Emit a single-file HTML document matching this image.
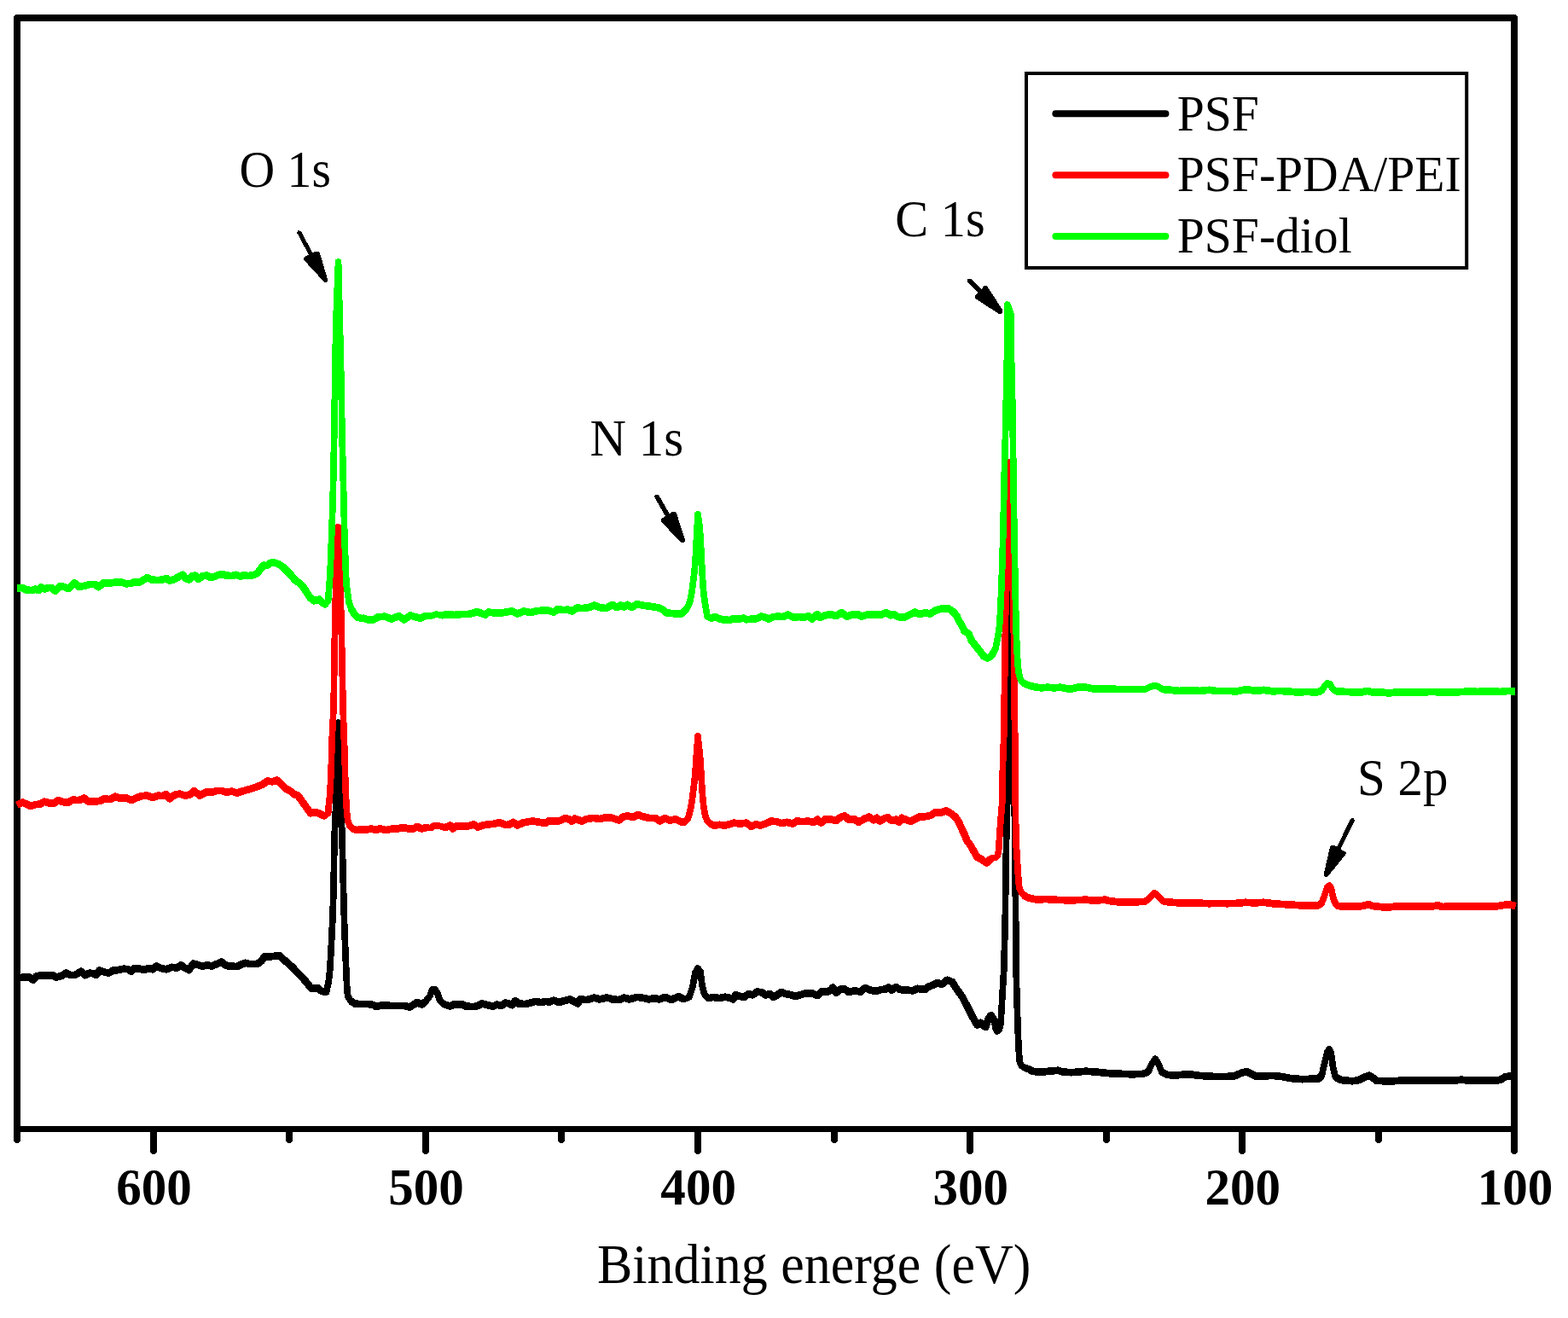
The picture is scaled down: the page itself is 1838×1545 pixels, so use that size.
<!DOCTYPE html>
<html lang="en"><head><meta charset="utf-8"><title>XPS survey spectra</title>
<style>html,body{margin:0;padding:0;background:#fff}svg{display:block}text{font-family:"Liberation Serif","Times New Roman",serif;fill:#000}</style></head><body>
<svg width="1838" height="1545" viewBox="0 0 1838 1545">
<rect width="1838" height="1545" fill="#fff"/>
<g fill="#000" shape-rendering="crispEdges">
<polygon points="16,19.5 18.5,17 1776.5,17 1779,19.5 1779,1323 1771,1323 1771,25 24,25 24,1323 16,1323"/>
<rect x="16" y="1320" width="1763" height="7"/>
<polygon points="16,1323 24,1323 24,1337.5 21.5,1340 18.5,1340 16,1337.5"/>
<polygon points="176,1323 184,1323 184,1350.5 181.5,1353 178.5,1353 176,1350.5"/>
<polygon points="335,1323 343,1323 343,1337.5 340.5,1340 337.5,1340 335,1337.5"/>
<polygon points="495,1323 503,1323 503,1350.5 500.5,1353 497.5,1353 495,1350.5"/>
<polygon points="654,1323 662,1323 662,1337.5 659.5,1340 656.5,1340 654,1337.5"/>
<polygon points="814,1323 822,1323 822,1350.5 819.5,1353 816.5,1353 814,1350.5"/>
<polygon points="974,1323 982,1323 982,1337.5 979.5,1340 976.5,1340 974,1337.5"/>
<polygon points="1133,1323 1141,1323 1141,1350.5 1138.5,1353 1135.5,1353 1133,1350.5"/>
<polygon points="1293,1323 1301,1323 1301,1337.5 1298.5,1340 1295.5,1340 1293,1337.5"/>
<polygon points="1452,1323 1460,1323 1460,1350.5 1457.5,1353 1454.5,1353 1452,1350.5"/>
<polygon points="1612,1323 1620,1323 1620,1337.5 1617.5,1340 1614.5,1340 1612,1337.5"/>
<polygon points="1771,1323 1779,1323 1779,1350.5 1776.5,1353 1773.5,1353 1771,1350.5"/>
</g>
<text transform="translate(180.45 1412.00) scale(0.968 1)" font-size="61" font-weight="bold" text-anchor="middle">600</text>
<text transform="translate(499.55 1412.00) scale(0.968 1)" font-size="61" font-weight="bold" text-anchor="middle">500</text>
<text transform="translate(818.65 1412.00) scale(0.968 1)" font-size="61" font-weight="bold" text-anchor="middle">400</text>
<text transform="translate(1137.75 1412.00) scale(0.968 1)" font-size="61" font-weight="bold" text-anchor="middle">300</text>
<text transform="translate(1456.85 1412.00) scale(0.968 1)" font-size="61" font-weight="bold" text-anchor="middle">200</text>
<text transform="translate(1775.95 1412.00) scale(0.968 1)" font-size="61" font-weight="bold" text-anchor="middle">100</text>
<text transform="translate(700.00 1504.10) scale(0.961 1)" font-size="64.5" font-weight="normal" text-anchor="start">Binding energe (eV)</text>
<g fill="none" stroke="#000" stroke-linejoin="round" stroke-linecap="butt" shape-rendering="crispEdges">
<polyline points="20.0,1146.3 27.5,1145.6 33.8,1145.1 38.8,1148.8 42.5,1144.6 48.8,1143.1 55.0,1143.8 61.3,1143.1 66.3,1145.6 72.6,1143.8 77.6,1140.6 82.6,1143.1 87.6,1143.1 95.1,1138.8 99.6,1143.1 105.1,1140.6 110.1,1141.3 112.6,1143.1 116.4,1137.6 122.6,1139.6 127.6,1140.6 132.6,1137.6 138.9,1137.1 145.2,1135.6 150.2,1136.3 153.9,1138.8 157.7,1135.1 163.9,1135.6 168.9,1137.1 173.9,1135.1 178.9,1136.3 183.2,1132.6 188.9,1135.1 195.2,1136.3 201.5,1133.8 207.7,1134.6 212.2,1131.3 216.5,1134.6 221.5,1137.1 226.5,1129.6 232.7,1131.3 237.8,1132.6 242.8,1131.3 247.8,1132.6 254.0,1130.1 259.8,1127.6 265.3,1132.1 271.5,1132.6 277.8,1133.1 282.8,1130.6 287.8,1128.8 292.8,1130.1 301.6,1130.1 306.6,1126.3 310.3,1121.3 317.8,1121.3 327.9,1120.1 332.9,1125.1 337.9,1129.6 342.9,1133.8 347.9,1139.6 354.1,1145.6 359.1,1151.3 365.1,1159.0 372.1,1158.0 377.1,1162.0 382.5,1163.0 385.2,1151.0 386.7,1137.0 387.9,1116.9 388.9,1096.8 389.9,1076.7 390.9,1046.6 391.4,1020.5 392.0,980.0 393.0,965.0 394.5,910.0 396.5,847.0 398.5,910.0 400.5,965.0 401.1,984.4 402.1,1024.5 403.1,1064.7 404.1,1095.8 405.1,1120.9 406.1,1145.0 407.0,1163.0 408.2,1169.0 411.3,1173.5 416.3,1176.7 424.3,1177.1 432.5,1177.1 437.5,1178.1 441.3,1180.1 447.6,1178.1 457.6,1178.9 467.6,1178.9 473.8,1178.9 480.1,1180.6 485.1,1177.6 488.9,1175.1 494.6,1177.6 498.9,1173.9 503.9,1167.6 506.4,1160.1 510.1,1159.6 513.1,1165.1 515.6,1172.6 520.1,1177.1 527.6,1179.6 532.6,1177.1 537.6,1177.6 541.4,1177.1 546.4,1179.6 555.2,1180.1 560.2,1178.9 565.2,1176.4 571.4,1178.1 577.7,1179.6 582.7,1177.6 587.7,1178.9 592.7,1175.6 596.5,1176.4 600.2,1178.1 604.0,1173.1 607.7,1176.4 615.2,1177.1 621.5,1175.6 627.8,1173.9 634.0,1175.1 640.3,1173.9 644.0,1174.6 649.0,1172.6 655.3,1175.1 661.5,1173.1 667.8,1171.4 672.8,1173.9 677.3,1176.4 680.3,1171.4 687.8,1172.1 696.6,1169.6 702.8,1171.4 710.3,1169.6 714.1,1170.1 717.9,1171.4 725.4,1172.1 731.6,1169.6 737.9,1171.4 746.6,1168.9 752.9,1169.6 760.4,1171.4 766.6,1170.1 772.9,1171.4 779.9,1168.9 786.7,1172.1 795.4,1168.1 801.7,1171.4 807.9,1168.9 811.7,1157.6 815.0,1140.1 818.0,1135.1 821.0,1138.8 823.0,1155.1 825.5,1165.1 830.5,1170.6 835.5,1168.9 843.0,1170.1 850.0,1168.8 855.0,1169.6 859.5,1171.3 862.5,1166.3 867.5,1168.1 872.5,1168.8 877.5,1165.1 882.5,1166.3 887.5,1162.6 892.5,1163.1 897.5,1166.3 902.6,1165.1 906.3,1168.8 911.3,1166.3 915.6,1163.1 921.3,1165.1 927.6,1166.3 932.6,1168.1 937.6,1166.3 943.9,1164.6 952.6,1164.6 958.1,1167.1 962.6,1162.6 970.1,1162.6 973.9,1160.6 976.4,1157.6 980.1,1163.8 985.1,1159.6 990.1,1159.6 995.2,1163.1 1001.4,1161.3 1008.9,1162.6 1013.9,1158.1 1020.2,1160.6 1026.4,1162.1 1032.7,1160.1 1037.7,1159.6 1041.5,1157.6 1045.2,1160.6 1050.2,1157.1 1055.2,1160.1 1062.7,1160.6 1070.2,1161.3 1075.2,1158.8 1084.0,1160.1 1089.0,1156.3 1094.0,1154.6 1099.0,1152.1 1104.0,1153.8 1110.3,1148.8 1116.5,1151.3 1120.0,1157.4 1127.8,1168.3 1135.5,1182.8 1141.2,1194.2 1145.4,1201.4 1149.5,1198.9 1155.2,1204.0 1158.8,1194.2 1161.9,1189.8 1165.0,1194.2 1167.1,1205.6 1168.7,1208.9 1171.3,1207.1 1172.8,1201.4 1173.5,1192.1 1174.3,1178.7 1175.1,1164.2 1175.9,1150.7 1176.7,1138.3 1177.5,1109.0 1178.4,1070.0 1179.2,1008.0 1180.4,946.0 1182.0,850.0 1183.5,700.0 1184.5,600.0 1185.5,700.0 1187.0,850.0 1188.4,946.0 1189.6,959.0 1189.8,1008.0 1190.6,1070.0 1191.0,1130.0 1191.5,1152.0 1192.0,1170.0 1193.0,1203.0 1194.0,1227.0 1195.1,1243.9 1197.1,1249.1 1200.8,1251.7 1207.0,1253.7 1210.1,1255.8 1216.3,1256.5 1222.5,1256.5 1228.7,1255.8 1233.9,1255.3 1240.0,1254.8 1245.4,1256.4 1255.4,1257.2 1265.5,1256.4 1273.0,1255.7 1283.0,1256.4 1290.5,1257.2 1300.5,1258.2 1313.3,1258.8 1326.7,1259.3 1340.0,1258.8 1345.8,1256.7 1350.1,1247.3 1354.1,1241.2 1358.1,1247.3 1361.8,1256.7 1368.0,1259.8 1376.0,1260.7 1385.3,1259.8 1394.6,1259.3 1404.0,1260.7 1414.6,1261.5 1425.3,1262.0 1436.0,1262.0 1446.6,1261.5 1454.6,1258.0 1461.3,1256.1 1466.6,1258.8 1472.0,1261.5 1481.3,1261.5 1492.0,1260.9 1502.6,1262.0 1513.3,1264.1 1526.6,1265.2 1537.3,1264.7 1545.3,1264.7 1549.3,1260.7 1552.7,1246.0 1555.9,1232.7 1558.1,1230.0 1560.2,1234.0 1562.6,1251.3 1565.3,1262.5 1571.9,1266.0 1585.3,1267.3 1593.2,1266.0 1599.9,1262.5 1605.2,1260.7 1609.2,1263.3 1613.2,1266.8 1622.6,1267.3 1633.2,1267.3 1643.9,1266.5 1657.2,1266.8 1667.9,1266.8 1678.6,1266.2 1689.2,1266.8 1702.6,1266.8 1713.2,1265.7 1723.9,1266.8 1737.2,1266.8 1750.5,1266.8 1758.5,1266.0 1763.9,1262.5 1769.2,1261.5 1774.5,1262.0" stroke-width="7.7"/>
<polyline points="20.0,1146.3 27.5,1145.6 33.8,1145.1 38.8,1148.8 42.5,1144.6 48.8,1143.1 55.0,1143.8 61.3,1143.1 66.3,1145.6 72.6,1143.8 77.6,1140.6 82.6,1143.1 87.6,1143.1 95.1,1138.8 99.6,1143.1 105.1,1140.6 110.1,1141.3 112.6,1143.1 116.4,1137.6 122.6,1139.6 127.6,1140.6 132.6,1137.6 138.9,1137.1 145.2,1135.6 150.2,1136.3 153.9,1138.8 157.7,1135.1 163.9,1135.6 168.9,1137.1 173.9,1135.1 178.9,1136.3 183.2,1132.6 188.9,1135.1 195.2,1136.3 201.5,1133.8 207.7,1134.6 212.2,1131.3 216.5,1134.6 221.5,1137.1 226.5,1129.6 232.7,1131.3 237.8,1132.6 242.8,1131.3 247.8,1132.6 254.0,1130.1 259.8,1127.6 265.3,1132.1 271.5,1132.6 277.8,1133.1 282.8,1130.6 287.8,1128.8 292.8,1130.1 301.6,1130.1 306.6,1126.3 310.3,1121.3 317.8,1121.3 327.9,1120.1 332.9,1125.1 337.9,1129.6 342.9,1133.8 347.9,1139.6 354.1,1145.6 359.1,1151.3 365.1,1159.0 372.1,1158.0 377.1,1162.0 382.5,1163.0" stroke-width="8.7"/>
<polyline points="411.3,1173.5 416.3,1176.7 424.3,1177.1 432.5,1177.1 437.5,1178.1 441.3,1180.1 447.6,1178.1 457.6,1178.9 467.6,1178.9 473.8,1178.9 480.1,1180.6 485.1,1177.6 488.9,1175.1 494.6,1177.6 498.9,1173.9" stroke-width="8.7"/>
<polyline points="520.1,1177.1 527.6,1179.6 532.6,1177.1 537.6,1177.6 541.4,1177.1 546.4,1179.6 555.2,1180.1 560.2,1178.9 565.2,1176.4 571.4,1178.1 577.7,1179.6 582.7,1177.6 587.7,1178.9 592.7,1175.6 596.5,1176.4 600.2,1178.1 604.0,1173.1 607.7,1176.4 615.2,1177.1 621.5,1175.6 627.8,1173.9 634.0,1175.1 640.3,1173.9 644.0,1174.6 649.0,1172.6 655.3,1175.1 661.5,1173.1 667.8,1171.4 672.8,1173.9 677.3,1176.4 680.3,1171.4 687.8,1172.1 696.6,1169.6 702.8,1171.4 710.3,1169.6 714.1,1170.1 717.9,1171.4 725.4,1172.1 731.6,1169.6 737.9,1171.4 746.6,1168.9 752.9,1169.6 760.4,1171.4 766.6,1170.1 772.9,1171.4 779.9,1168.9 786.7,1172.1 795.4,1168.1 801.7,1171.4" stroke-width="8.7"/>
<polyline points="830.5,1170.6 835.5,1168.9 843.0,1170.1 850.0,1168.8 855.0,1169.6 859.5,1171.3 862.5,1166.3 867.5,1168.1 872.5,1168.8 877.5,1165.1 882.5,1166.3 887.5,1162.6 892.5,1163.1 897.5,1166.3 902.6,1165.1 906.3,1168.8 911.3,1166.3 915.6,1163.1 921.3,1165.1 927.6,1166.3 932.6,1168.1 937.6,1166.3 943.9,1164.6 952.6,1164.6 958.1,1167.1 962.6,1162.6 970.1,1162.6 973.9,1160.6 976.4,1157.6 980.1,1163.8 985.1,1159.6 990.1,1159.6 995.2,1163.1 1001.4,1161.3 1008.9,1162.6 1013.9,1158.1 1020.2,1160.6 1026.4,1162.1 1032.7,1160.1 1037.7,1159.6 1041.5,1157.6 1045.2,1160.6 1050.2,1157.1 1055.2,1160.1 1062.7,1160.6 1070.2,1161.3 1075.2,1158.8 1084.0,1160.1 1089.0,1156.3 1094.0,1154.6 1099.0,1152.1 1104.0,1153.8 1110.3,1148.8 1116.5,1151.3 1120.0,1157.4 1127.8,1168.3 1135.5,1182.8 1141.2,1194.2 1145.4,1201.4 1149.5,1198.9 1155.2,1204.0 1158.8,1194.2 1161.9,1189.8" stroke-width="8.7"/>
<polyline points="1200.8,1251.7 1207.0,1253.7 1210.1,1255.8 1216.3,1256.5 1222.5,1256.5 1228.7,1255.8 1233.9,1255.3 1240.0,1254.8 1245.4,1256.4 1255.4,1257.2 1265.5,1256.4 1273.0,1255.7 1283.0,1256.4 1290.5,1257.2 1300.5,1258.2 1313.3,1258.8 1326.7,1259.3 1340.0,1258.8 1345.8,1256.7" stroke-width="8.7"/>
<polyline points="1361.8,1256.7 1368.0,1259.8 1376.0,1260.7 1385.3,1259.8 1394.6,1259.3 1404.0,1260.7 1414.6,1261.5 1425.3,1262.0 1436.0,1262.0 1446.6,1261.5 1454.6,1258.0 1461.3,1256.1 1466.6,1258.8 1472.0,1261.5 1481.3,1261.5 1492.0,1260.9 1502.6,1262.0 1513.3,1264.1 1526.6,1265.2 1537.3,1264.7 1545.3,1264.7 1549.3,1260.7" stroke-width="8.7"/>
<polyline points="1565.3,1262.5 1571.9,1266.0 1585.3,1267.3 1593.2,1266.0 1599.9,1262.5 1605.2,1260.7 1609.2,1263.3 1613.2,1266.8 1622.6,1267.3 1633.2,1267.3 1643.9,1266.5 1657.2,1266.8 1667.9,1266.8 1678.6,1266.2 1689.2,1266.8 1702.6,1266.8 1713.2,1265.7 1723.9,1266.8 1737.2,1266.8 1750.5,1266.8 1758.5,1266.0 1763.9,1262.5 1769.2,1261.5 1774.5,1262.0" stroke-width="8.7"/>
</g>
<g fill="none" stroke="#f00" stroke-linejoin="round" stroke-linecap="butt" shape-rendering="crispEdges">
<polyline points="20.0,943.8 26.3,940.6 31.3,942.6 36.3,945.1 41.3,943.1 47.5,942.6 52.0,939.6 57.5,941.3 63.8,941.3 68.1,938.1 73.8,940.1 80.1,940.6 85.1,937.6 92.6,938.1 98.8,935.6 103.8,939.6 111.4,939.6 117.6,938.8 122.6,936.3 128.9,937.1 135.1,933.8 140.1,935.6 147.7,935.1 153.9,938.1 160.2,935.1 166.4,933.1 172.7,932.6 178.9,935.1 185.2,932.6 190.2,933.1 194.7,931.3 199.0,936.3 204.0,932.1 210.2,930.6 217.7,932.6 222.7,931.3 227.7,927.1 234.0,932.6 242.8,928.1 247.8,928.8 254.0,927.1 260.3,927.1 265.3,928.8 271.5,927.6 277.8,929.6 285.3,927.1 292.8,925.1 300.3,922.6 307.8,919.6 313.3,915.6 319.1,916.3 324.8,914.6 330.4,920.1 335.4,924.6 341.6,928.1 345.4,931.3 349.0,932.2 356.1,942.2 364.1,953.3 370.1,952.3 375.1,953.9 380.1,956.7 384.6,953.3 385.4,944.0 386.4,935.0 387.4,920.0 388.4,895.0 388.9,873.0 390.1,848.0 391.1,828.0 392.8,720.0 394.0,680.0 395.2,650.0 396.3,617.8 397.4,650.0 398.5,680.0 400.0,726.0 402.1,830.0 403.1,860.0 404.1,885.0 404.8,917.0 405.8,940.0 406.8,955.0 407.9,963.0 410.0,968.0 413.0,971.5 418.0,973.0 422.5,972.6 430.0,972.6 435.0,971.4 440.0,973.1 445.1,971.4 452.6,973.1 460.1,971.4 466.3,971.4 472.6,970.1 478.8,971.4 485.1,971.4 488.9,968.9 493.9,971.4 500.1,970.1 505.1,970.6 508.9,967.6 515.1,968.1 521.4,970.1 527.6,967.6 530.6,971.4 535.1,968.1 542.7,968.9 550.2,968.1 555.2,966.4 560.2,969.6 565.2,967.6 572.7,966.4 580.2,965.6 585.2,963.9 592.7,967.1 597.7,966.4 601.5,963.9 606.5,967.6 612.7,964.6 620.2,963.1 625.2,962.6 632.8,963.9 639.0,965.1 642.8,962.6 650.3,962.6 656.5,962.1 662.8,958.9 666.5,960.1 670.3,962.6 674.0,959.6 681.6,962.6 687.8,960.1 695.3,958.9 702.8,960.1 710.3,958.1 717.9,958.9 725.4,961.4 730.4,957.6 735.4,956.4 741.6,958.1 747.9,955.1 752.9,957.1 760.4,958.9 767.9,958.9 773.4,962.5 779.2,959.1 784.6,961.5 792.3,960.5 797.2,963.0 801.1,963.9 804.5,962.0 806.4,959.6 807.9,954.7 809.0,950.6 810.0,945.7 811.0,939.9 812.0,932.4 813.1,923.6 814.1,914.7 815.1,904.0 816.0,890.9 817.0,876.3 818.0,864.6 818.1,862.7 819.0,872.9 820.0,880.9 821.0,892.3 822.0,908.3 823.0,925.8 824.1,938.9 824.9,946.0 825.9,951.8 827.0,957.4 829.2,962.5 832.1,965.4 837.0,967.5 843.8,966.8 850.0,967.6 855.0,966.3 860.0,964.6 867.5,965.6 875.0,964.6 880.5,968.8 886.3,966.3 891.3,967.6 897.5,965.6 903.8,962.6 910.1,963.1 916.3,965.1 922.6,963.8 929.6,965.6 933.8,962.6 941.4,963.1 947.6,962.6 953.9,963.8 958.1,960.6 962.6,964.6 967.6,960.1 973.9,960.6 980.1,962.1 985.1,958.1 990.1,956.3 994.7,960.6 1001.4,960.1 1006.4,963.8 1012.7,960.1 1018.9,957.6 1023.9,961.3 1027.7,958.8 1031.5,962.6 1036.5,959.6 1040.7,958.1 1045.2,962.1 1050.2,960.6 1054.0,963.8 1057.2,958.8 1062.7,961.3 1067.7,962.6 1072.7,960.1 1077.8,957.6 1085.3,957.1 1091.5,955.6 1096.5,952.1 1102.8,952.6 1109.0,950.5 1115.3,953.8 1120.3,958.1 1124.0,963.8 1127.3,971.3 1130.3,977.6 1133.3,985.1 1137.8,991.4 1141.6,998.1 1145.3,1004.6 1150.3,1007.1 1156.4,1011.6 1160.0,1008.0 1163.0,1005.5 1167.0,1005.5 1169.5,1003.0 1170.7,996.0 1171.7,980.0 1172.9,963.0 1174.8,940.0 1175.4,900.0 1177.0,854.0 1177.3,819.0 1178.0,770.0 1178.8,711.0 1180.5,640.0 1183.0,542.0 1185.5,640.0 1188.0,711.0 1188.7,770.0 1188.8,819.0 1189.6,854.0 1190.2,900.0 1190.3,940.0 1191.0,990.0 1192.0,1000.0 1193.0,1020.0 1194.1,1034.0 1194.8,1041.1 1197.1,1045.8 1200.2,1049.6 1205.4,1052.4 1213.9,1054.3 1217.9,1054.7 1225.4,1053.9 1235.4,1054.7 1247.9,1055.2 1260.5,1055.2 1273.0,1054.7 1283.0,1055.7 1295.5,1054.7 1300.0,1056.0 1310.7,1057.3 1321.3,1057.8 1332.0,1057.3 1342.7,1056.8 1348.0,1052.0 1353.3,1046.7 1358.7,1051.5 1364.0,1056.8 1374.7,1057.8 1385.3,1058.7 1396.0,1058.7 1406.6,1058.7 1417.3,1059.2 1428.0,1058.9 1438.6,1059.2 1449.3,1058.9 1460.0,1057.8 1470.6,1058.4 1481.3,1057.8 1492.0,1059.2 1502.6,1060.0 1513.3,1060.5 1523.9,1061.3 1534.6,1061.6 1545.3,1061.3 1549.3,1058.7 1552.7,1049.3 1555.9,1040.0 1558.1,1038.1 1560.2,1040.8 1563.4,1054.7 1566.6,1061.3 1571.9,1062.6 1582.6,1062.6 1593.2,1062.6 1599.9,1061.3 1603.9,1060.0 1609.2,1062.1 1619.9,1063.2 1627.9,1063.4 1635.9,1062.6 1651.9,1062.6 1667.9,1062.6 1678.6,1062.6 1685.2,1061.3 1690.6,1062.9 1705.2,1062.6 1721.2,1062.6 1737.2,1062.6 1753.2,1062.6 1761.2,1061.3 1767.9,1060.0 1773.2,1061.3 1776.7,1062.1" stroke-width="7.7"/>
<polyline points="20.0,943.8 26.3,940.6 31.3,942.6 36.3,945.1 41.3,943.1 47.5,942.6 52.0,939.6 57.5,941.3 63.8,941.3 68.1,938.1 73.8,940.1 80.1,940.6 85.1,937.6 92.6,938.1 98.8,935.6 103.8,939.6 111.4,939.6 117.6,938.8 122.6,936.3 128.9,937.1 135.1,933.8 140.1,935.6 147.7,935.1 153.9,938.1 160.2,935.1 166.4,933.1 172.7,932.6 178.9,935.1 185.2,932.6 190.2,933.1 194.7,931.3 199.0,936.3 204.0,932.1 210.2,930.6 217.7,932.6 222.7,931.3 227.7,927.1 234.0,932.6 242.8,928.1 247.8,928.8 254.0,927.1 260.3,927.1 265.3,928.8 271.5,927.6 277.8,929.6 285.3,927.1 292.8,925.1 300.3,922.6 307.8,919.6 313.3,915.6 319.1,916.3 324.8,914.6 330.4,920.1 335.4,924.6 341.6,928.1 345.4,931.3 349.0,932.2 356.1,942.2 364.1,953.3 370.1,952.3 375.1,953.9 380.1,956.7" stroke-width="8.7"/>
<polyline points="413.0,971.5 418.0,973.0 422.5,972.6 430.0,972.6 435.0,971.4 440.0,973.1 445.1,971.4 452.6,973.1 460.1,971.4 466.3,971.4 472.6,970.1 478.8,971.4 485.1,971.4 488.9,968.9 493.9,971.4 500.1,970.1" stroke-width="8.7"/>
<polyline points="521.4,970.1 527.6,967.6 530.6,971.4 535.1,968.1 542.7,968.9 550.2,968.1 555.2,966.4 560.2,969.6 565.2,967.6 572.7,966.4 580.2,965.6 585.2,963.9 592.7,967.1 597.7,966.4 601.5,963.9 606.5,967.6 612.7,964.6 620.2,963.1 625.2,962.6 632.8,963.9 639.0,965.1 642.8,962.6 650.3,962.6 656.5,962.1 662.8,958.9 666.5,960.1 670.3,962.6 674.0,959.6 681.6,962.6 687.8,960.1 695.3,958.9 702.8,960.1 710.3,958.1 717.9,958.9 725.4,961.4 730.4,957.6 735.4,956.4 741.6,958.1 747.9,955.1 752.9,957.1 760.4,958.9 767.9,958.9 773.4,962.5 779.2,959.1 784.6,961.5 792.3,960.5 797.2,963.0 801.1,963.9 804.5,962.0" stroke-width="8.7"/>
<polyline points="832.1,965.4 837.0,967.5 843.8,966.8 850.0,967.6 855.0,966.3 860.0,964.6 867.5,965.6 875.0,964.6 880.5,968.8 886.3,966.3 891.3,967.6 897.5,965.6 903.8,962.6 910.1,963.1 916.3,965.1 922.6,963.8 929.6,965.6 933.8,962.6 941.4,963.1 947.6,962.6 953.9,963.8 958.1,960.6 962.6,964.6 967.6,960.1 973.9,960.6 980.1,962.1 985.1,958.1 990.1,956.3 994.7,960.6 1001.4,960.1 1006.4,963.8 1012.7,960.1 1018.9,957.6 1023.9,961.3 1027.7,958.8 1031.5,962.6 1036.5,959.6 1040.7,958.1 1045.2,962.1 1050.2,960.6 1054.0,963.8 1057.2,958.8 1062.7,961.3 1067.7,962.6 1072.7,960.1 1077.8,957.6 1085.3,957.1 1091.5,955.6 1096.5,952.1 1102.8,952.6 1109.0,950.5 1115.3,953.8 1120.3,958.1 1124.0,963.8 1127.3,971.3 1130.3,977.6 1133.3,985.1 1137.8,991.4 1141.6,998.1 1145.3,1004.6 1150.3,1007.1 1156.4,1011.6 1160.0,1008.0 1163.0,1005.5" stroke-width="8.7"/>
<polyline points="1200.2,1049.6 1205.4,1052.4 1213.9,1054.3 1217.9,1054.7 1225.4,1053.9 1235.4,1054.7 1247.9,1055.2 1260.5,1055.2 1273.0,1054.7 1283.0,1055.7 1295.5,1054.7 1300.0,1056.0 1310.7,1057.3 1321.3,1057.8 1332.0,1057.3 1342.7,1056.8" stroke-width="8.7"/>
<polyline points="1364.0,1056.8 1374.7,1057.8 1385.3,1058.7 1396.0,1058.7 1406.6,1058.7 1417.3,1059.2 1428.0,1058.9 1438.6,1059.2 1449.3,1058.9 1460.0,1057.8 1470.6,1058.4 1481.3,1057.8 1492.0,1059.2 1502.6,1060.0 1513.3,1060.5 1523.9,1061.3 1534.6,1061.6 1545.3,1061.3 1549.3,1058.7" stroke-width="8.7"/>
<polyline points="1566.6,1061.3 1571.9,1062.6 1582.6,1062.6 1593.2,1062.6 1599.9,1061.3 1603.9,1060.0 1609.2,1062.1 1619.9,1063.2 1627.9,1063.4 1635.9,1062.6 1651.9,1062.6 1667.9,1062.6 1678.6,1062.6 1685.2,1061.3 1690.6,1062.9 1705.2,1062.6 1721.2,1062.6 1737.2,1062.6 1753.2,1062.6 1761.2,1061.3 1767.9,1060.0 1773.2,1061.3 1776.7,1062.1" stroke-width="8.7"/>
</g>
<g fill="none" stroke="#0f0" stroke-linejoin="round" stroke-linecap="butt" shape-rendering="crispEdges">
<polyline points="20.0,689.6 26.3,688.9 30.0,691.4 37.5,692.1 41.3,690.6 45.0,692.1 48.0,688.1 52.5,690.6 56.3,688.9 60.0,688.9 64.6,692.6 70.1,687.1 75.6,688.1 80.6,690.1 87.1,683.1 92.1,687.6 97.6,687.1 105.1,685.1 111.4,685.1 115.6,688.1 121.4,683.1 127.6,683.8 135.1,682.6 142.6,682.6 147.7,684.3 153.9,683.8 157.7,682.1 162.7,683.1 167.7,680.1 172.7,677.1 177.7,679.6 185.2,680.1 190.2,679.6 195.2,678.1 199.0,680.6 205.2,678.8 210.2,675.6 214.0,673.8 217.2,677.6 221.5,679.6 225.7,675.1 229.0,674.6 232.7,678.8 237.8,675.1 242.8,674.6 246.5,677.1 251.5,675.8 256.5,673.8 261.5,673.1 265.3,674.6 271.5,675.1 276.5,673.8 281.6,675.6 285.3,674.1 291.6,675.1 297.8,673.8 301.6,672.1 305.3,667.1 309.1,662.6 312.8,663.1 316.6,660.1 320.3,659.1 326.6,661.3 331.6,664.6 336.6,669.6 341.6,674.6 345.4,679.6 350.4,683.1 355.4,688.1 359.2,693.9 363.6,700.8 368.0,704.3 374.1,702.6 377.6,706.1 381.1,708.7 384.6,704.3 385.4,694.0 385.9,687.0 387.0,672.0 388.0,648.0 388.9,621.0 389.9,595.0 391.0,550.0 392.0,495.0 392.9,428.0 393.8,380.0 394.8,352.0 395.9,323.0 396.6,307.0 397.2,332.0 398.2,374.0 399.2,415.0 400.2,458.0 400.9,506.0 402.0,548.0 403.0,590.0 403.9,630.0 405.0,660.0 406.0,685.0 408.0,698.0 409.0,706.0 412.0,714.0 415.5,720.0 419.0,723.5 424.0,725.0 426.3,724.7 431.3,726.4 437.5,726.4 443.8,723.2 451.3,722.7 458.8,725.7 467.6,722.1 473.8,726.4 481.3,721.4 486.3,723.2 492.6,724.7 500.1,721.4 505.1,722.1 511.4,720.1 517.6,721.4 525.1,720.1 532.6,720.9 540.1,720.1 547.7,720.1 553.9,718.9 558.9,717.1 563.9,718.9 568.9,720.6 572.7,717.6 578.9,718.4 585.2,718.9 592.7,717.6 600.2,716.4 606.5,719.6 614.0,716.4 621.5,718.1 627.8,716.4 635.3,715.6 642.8,715.6 649.0,717.6 654.0,713.9 660.3,715.1 665.3,714.6 670.3,716.4 676.5,712.6 682.8,713.1 690.3,712.1 696.6,709.6 702.8,712.1 710.3,713.1 717.9,708.9 722.9,712.1 727.9,709.6 731.6,711.4 735.4,708.9 740.4,712.1 746.6,708.1 752.9,709.6 760.4,710.6 766.6,711.4 772.9,712.6 777.9,715.1 780.7,718.2 787.5,719.1 794.3,719.3 798.2,719.6 801.6,717.2 804.5,714.3 806.4,710.4 807.9,707.5 809.0,704.0 810.0,699.4 811.0,693.9 812.0,686.6 813.0,678.3 814.1,669.6 815.1,657.5 816.0,640.5 817.0,620.8 818.0,605.8 818.1,602.7 819.0,610.0 820.0,616.7 821.0,628.8 822.0,648.2 823.0,669.8 824.1,686.4 824.9,695.8 825.9,703.3 827.0,710.9 828.0,716.4 829.2,723.0 833.1,725.0 838.0,723.2 843.8,725.4 848.6,726.9 850.0,726.3 855.0,727.1 860.0,725.1 866.3,725.6 871.3,724.6 875.0,726.3 881.3,725.6 887.5,725.1 892.5,722.6 897.5,723.8 901.3,725.6 906.3,723.1 912.6,722.6 917.6,723.1 923.8,720.6 930.1,723.8 936.3,723.1 942.6,723.8 947.6,722.1 952.1,725.6 958.1,720.1 961.4,723.8 967.6,721.3 973.9,720.1 980.1,722.1 986.4,718.1 992.7,722.6 998.9,720.6 1005.2,720.1 1010.2,722.6 1016.4,720.6 1025.2,720.6 1032.7,720.6 1039.0,718.1 1044.0,721.3 1047.7,720.1 1052.7,723.1 1060.2,723.8 1066.5,720.6 1072.7,717.6 1077.8,720.1 1085.3,718.1 1090.3,719.6 1096.5,715.6 1102.8,713.8 1111.5,713.1 1117.8,717.6 1121.5,722.1 1124.0,727.6 1127.8,733.8 1130.3,739.6 1135.3,742.6 1139.1,751.4 1144.1,757.6 1149.1,763.9 1152.8,768.9 1157.2,771.5 1160.5,770.0 1164.0,766.0 1167.0,760.0 1169.0,750.0 1170.8,740.0 1171.8,731.0 1172.8,713.0 1173.8,689.0 1174.8,663.0 1175.8,626.0 1176.8,580.0 1177.8,533.0 1178.8,500.0 1179.9,440.0 1180.9,401.0 1180.9,357.0 1185.2,369.0 1185.2,413.0 1186.2,440.0 1187.2,500.0 1188.2,580.0 1189.2,640.0 1190.2,696.0 1191.2,740.0 1192.2,764.0 1193.0,778.0 1194.1,789.0 1196.5,797.0 1200.0,801.0 1205.4,803.2 1212.9,805.2 1220.4,806.4 1227.9,805.7 1235.4,806.4 1242.9,805.7 1250.4,807.2 1255.4,807.7 1263.0,805.7 1273.0,805.7 1280.5,807.2 1288.0,807.7 1295.5,807.2 1310.7,808.0 1326.7,808.0 1342.7,808.0 1348.0,805.3 1353.3,803.5 1357.3,804.5 1362.7,808.0 1372.0,808.8 1382.6,809.9 1390.6,809.3 1398.6,809.3 1406.6,809.9 1417.3,808.8 1425.3,809.9 1438.6,809.9 1449.3,810.4 1457.3,808.8 1465.3,808.8 1472.0,809.9 1481.3,808.8 1492.0,810.4 1500.0,809.9 1510.6,810.6 1521.3,811.5 1531.9,810.9 1542.6,811.5 1549.3,809.9 1552.7,804.0 1555.9,800.8 1559.1,801.9 1562.6,808.0 1566.6,810.6 1577.3,810.9 1587.9,811.5 1595.9,811.5 1602.6,809.9 1609.2,811.5 1619.9,811.5 1627.9,812.5 1635.9,811.5 1651.9,811.5 1667.9,811.5 1678.6,810.9 1689.2,811.5 1705.2,811.5 1715.9,810.9 1723.9,810.4 1731.9,810.9 1745.2,810.4 1758.5,810.9 1767.9,809.9 1775.9,810.6" stroke-width="7.7"/>
<polyline points="20.0,689.6 26.3,688.9 30.0,691.4 37.5,692.1 41.3,690.6 45.0,692.1 48.0,688.1 52.5,690.6 56.3,688.9 60.0,688.9 64.6,692.6 70.1,687.1 75.6,688.1 80.6,690.1 87.1,683.1 92.1,687.6 97.6,687.1 105.1,685.1 111.4,685.1 115.6,688.1 121.4,683.1 127.6,683.8 135.1,682.6 142.6,682.6 147.7,684.3 153.9,683.8 157.7,682.1 162.7,683.1 167.7,680.1 172.7,677.1 177.7,679.6 185.2,680.1 190.2,679.6 195.2,678.1 199.0,680.6 205.2,678.8 210.2,675.6 214.0,673.8 217.2,677.6 221.5,679.6 225.7,675.1 229.0,674.6 232.7,678.8 237.8,675.1 242.8,674.6 246.5,677.1 251.5,675.8 256.5,673.8 261.5,673.1 265.3,674.6 271.5,675.1 276.5,673.8 281.6,675.6 285.3,674.1 291.6,675.1 297.8,673.8 301.6,672.1 305.3,667.1 309.1,662.6 312.8,663.1 316.6,660.1 320.3,659.1 326.6,661.3 331.6,664.6 336.6,669.6 341.6,674.6 345.4,679.6 350.4,683.1 355.4,688.1 359.2,693.9 363.6,700.8 368.0,704.3 374.1,702.6 377.6,706.1 381.1,708.7" stroke-width="8.7"/>
<polyline points="412.0,714.0 415.5,720.0 419.0,723.5 424.0,725.0 426.3,724.7 431.3,726.4 437.5,726.4 443.8,723.2 451.3,722.7 458.8,725.7 467.6,722.1 473.8,726.4 481.3,721.4 486.3,723.2 492.6,724.7 500.1,721.4" stroke-width="8.7"/>
<polyline points="517.6,721.4 525.1,720.1 532.6,720.9 540.1,720.1 547.7,720.1 553.9,718.9 558.9,717.1 563.9,718.9 568.9,720.6 572.7,717.6 578.9,718.4 585.2,718.9 592.7,717.6 600.2,716.4 606.5,719.6 614.0,716.4 621.5,718.1 627.8,716.4 635.3,715.6 642.8,715.6 649.0,717.6 654.0,713.9 660.3,715.1 665.3,714.6 670.3,716.4 676.5,712.6 682.8,713.1 690.3,712.1 696.6,709.6 702.8,712.1 710.3,713.1 717.9,708.9 722.9,712.1 727.9,709.6 731.6,711.4 735.4,708.9 740.4,712.1 746.6,708.1 752.9,709.6 760.4,710.6 766.6,711.4 772.9,712.6 777.9,715.1 780.7,718.2 787.5,719.1 794.3,719.3 798.2,719.6 801.6,717.2 804.5,714.3" stroke-width="8.7"/>
<polyline points="833.1,725.0 838.0,723.2 843.8,725.4 848.6,726.9 850.0,726.3 855.0,727.1 860.0,725.1 866.3,725.6 871.3,724.6 875.0,726.3 881.3,725.6 887.5,725.1 892.5,722.6 897.5,723.8 901.3,725.6 906.3,723.1 912.6,722.6 917.6,723.1 923.8,720.6 930.1,723.8 936.3,723.1 942.6,723.8 947.6,722.1 952.1,725.6 958.1,720.1 961.4,723.8 967.6,721.3 973.9,720.1 980.1,722.1 986.4,718.1 992.7,722.6 998.9,720.6 1005.2,720.1 1010.2,722.6 1016.4,720.6 1025.2,720.6 1032.7,720.6 1039.0,718.1 1044.0,721.3 1047.7,720.1 1052.7,723.1 1060.2,723.8 1066.5,720.6 1072.7,717.6 1077.8,720.1 1085.3,718.1 1090.3,719.6 1096.5,715.6 1102.8,713.8 1111.5,713.1 1117.8,717.6 1121.5,722.1 1124.0,727.6 1127.8,733.8 1130.3,739.6 1135.3,742.6 1139.1,751.4 1144.1,757.6 1149.1,763.9 1152.8,768.9 1157.2,771.5 1160.5,770.0 1164.0,766.0" stroke-width="8.7"/>
<polyline points="1200.0,801.0 1205.4,803.2 1212.9,805.2 1220.4,806.4 1227.9,805.7 1235.4,806.4 1242.9,805.7 1250.4,807.2 1255.4,807.7 1263.0,805.7 1273.0,805.7 1280.5,807.2 1288.0,807.7 1295.5,807.2 1310.7,808.0 1326.7,808.0 1342.7,808.0" stroke-width="8.7"/>
<polyline points="1362.7,808.0 1372.0,808.8 1382.6,809.9 1390.6,809.3 1398.6,809.3 1406.6,809.9 1417.3,808.8 1425.3,809.9 1438.6,809.9 1449.3,810.4 1457.3,808.8 1465.3,808.8 1472.0,809.9 1481.3,808.8 1492.0,810.4 1500.0,809.9 1510.6,810.6 1521.3,811.5 1531.9,810.9 1542.6,811.5 1549.3,809.9" stroke-width="8.7"/>
<polyline points="1566.6,810.6 1577.3,810.9 1587.9,811.5 1595.9,811.5 1602.6,809.9 1609.2,811.5 1619.9,811.5 1627.9,812.5 1635.9,811.5 1651.9,811.5 1667.9,811.5 1678.6,810.9 1689.2,811.5 1705.2,811.5 1715.9,810.9 1723.9,810.4 1731.9,810.9 1745.2,810.4 1758.5,810.9 1767.9,809.9 1775.9,810.6" stroke-width="8.7"/>
</g>
<rect x="1203" y="86" width="516.2" height="228" fill="#fff" stroke="#000" stroke-width="4"/>
<line x1="1237.4" y1="133.3" x2="1366.4" y2="133.3" stroke="#000" stroke-width="8" stroke-linecap="round"/>
<line x1="1237.4" y1="205.3" x2="1366.4" y2="205.3" stroke="#f00" stroke-width="8" stroke-linecap="round"/>
<line x1="1237.4" y1="277.1" x2="1366.4" y2="277.1" stroke="#0f0" stroke-width="8" stroke-linecap="round"/>
<text transform="translate(1379.80 153.20) scale(0.96 1)" font-size="60" font-weight="normal" text-anchor="start">PSF</text>
<text transform="translate(1379.80 224.10) scale(0.96 1)" font-size="60" font-weight="normal" text-anchor="start">PSF-PDA/PEI</text>
<text transform="translate(1379.80 295.90) scale(0.96 1)" font-size="60" font-weight="normal" text-anchor="start">PSF-diol</text>
<text transform="translate(280.60 218.60) scale(0.945 1)" font-size="61" font-weight="normal" text-anchor="start">O 1s</text>
<text transform="translate(1049.20 277.10) scale(0.957 1)" font-size="61" font-weight="normal" text-anchor="start">C 1s</text>
<text transform="translate(691.60 534.10) scale(0.965 1)" font-size="61" font-weight="normal" text-anchor="start">N 1s</text>
<text transform="translate(1591.00 932.40) scale(0.965 1)" font-size="61" font-weight="normal" text-anchor="start">S 2p</text>
<g fill="#000" shape-rendering="crispEdges">
<polygon points="348.0,272.6 349.5,270.1 353.0,271.1 367.5,298.8 363.0,300.8"/>
<polygon points="369.2,295.0 373.9,295.0 374.8,296.4 383.9,326.9 383.9,329.4 382.5,330.9 379.8,330.4 357.1,305.8 355.9,303.6 357.1,301.1"/>
<polygon points="1134.0,327.0 1138.8,327.0 1153.0,341.8 1149.0,345.5 1134.0,330.8"/>
<polygon points="1154.1,334.9 1156.8,334.9 1175.1,363.2 1175.1,366.4 1173.4,368.1 1171.2,368.1 1142.9,349.8 1142.9,346.2"/>
<polygon points="767.1,582.6 768.0,579.9 772.0,579.9 786.0,604.5 781.5,608.0"/>
<polygon points="788.2,600.0 791.9,600.0 792.9,601.5 803.0,632.5 803.0,634.5 801.7,635.9 798.3,635.9 775.2,611.8 774.9,608.4"/>
<polygon points="1582.2,961.1 1585.2,958.9 1587.1,958.9 1587.9,962.6 1571.2,995.8 1567.0,993.5"/>
<polygon points="1560.3,991.2 1564.8,991.2 1578.0,999.3 1578.0,1000.8 1557.0,1026.8 1555.0,1028.0 1553.0,1028.0 1552.0,1026.5 1552.0,1023.4 1559.1,992.4"/>
</g>
</svg></body></html>
